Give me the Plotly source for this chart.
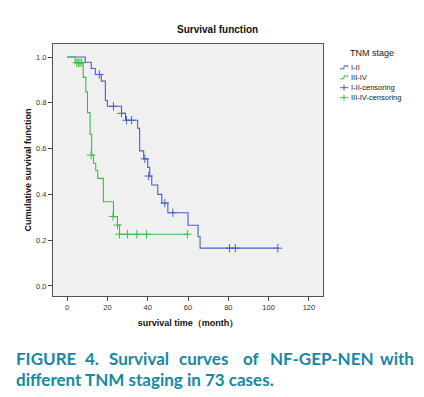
import plotly.graph_objects as go

# ---- data ----
stage12_time = [0, 9, 12, 14, 17, 19, 20, 27, 29, 35, 36, 38, 40, 41, 42, 45, 47, 50, 60, 65, 66, 104.6]
stage12_surv = [1.0, 0.977, 0.95, 0.924, 0.895, 0.81, 0.785, 0.754, 0.724, 0.689, 0.59, 0.555, 0.518,
                0.48, 0.441, 0.40, 0.362, 0.32, 0.265, 0.215, 0.165, 0.165]
stage12_cens_time = [16, 23, 27, 29.5, 32, 38.6, 40.5, 48.5, 52.5, 80.6, 83.5, 104.6]
stage12_cens_surv = [0.924, 0.785, 0.754, 0.724, 0.724, 0.555, 0.48, 0.362, 0.32, 0.165, 0.165, 0.165]

stage34_time = [0, 4, 8, 9.3, 10.1, 11.4, 12.2, 13.1, 14.2, 15.2, 18, 23, 25, 26, 59.7]
stage34_surv = [1.0, 0.975, 0.911, 0.848, 0.757, 0.662, 0.572, 0.536, 0.504, 0.47, 0.368, 0.303,
                0.266, 0.226, 0.226]
stage34_cens_time = [4.8, 5.6, 6.4, 7.3, 11.9, 22.8, 25, 26, 30, 34.6, 39.4, 59.7]
stage34_cens_surv = [0.975, 0.975, 0.975, 0.975, 0.572, 0.303, 0.266, 0.226, 0.226, 0.226, 0.226, 0.226]

x_ticks = [0, 20, 40, 60, 80, 100, 120]
y_ticks = [0.0, 0.2, 0.4, 0.6, 0.8, 1.0]
legend_labels = ["I-II", "III-IV", "I-II-censoring", "III-IV-censoring"]

BLUE = "#4a60c0"
GREEN = "#3fba4b"
TEAL = "#1589a3"

# page has an 8px body margin, so the figure is 8px smaller and offset
OFF = 8
W, H = 424 - OFF, 397 - OFF
BOX_L, BOX_T, BOX_R, BOX_B = 53, 44, 323, 296   # plot box in window pixels
ML, MT = BOX_L - OFF, BOX_T - OFF
PW, PH = BOX_R - BOX_L, BOX_B - BOX_T
MR, MB = W - ML - PW, H - MT - PH


def px(xp):
    return (xp - BOX_L) / PW


def py(yp):
    return (BOX_B - yp) / PH


fig = go.Figure()
fig.add_trace(go.Scatter(x=stage12_time, y=stage12_surv, mode="lines", line_shape="hv",
                         line=dict(color=BLUE, width=1.1), showlegend=False))
fig.add_trace(go.Scatter(x=stage34_time, y=stage34_surv, mode="lines", line_shape="hv",
                         line=dict(color=GREEN, width=1.1), showlegend=False))
fig.add_trace(go.Scatter(x=stage12_cens_time, y=stage12_cens_surv, mode="markers",
                         marker=dict(symbol="cross-thin", size=6, line=dict(color=BLUE, width=1)),
                         showlegend=False))
fig.add_trace(go.Scatter(x=stage34_cens_time, y=stage34_cens_surv, mode="markers",
                         marker=dict(symbol="cross-thin", size=6, line=dict(color=GREEN, width=1)),
                         showlegend=False))

axis_font = dict(family="Liberation Sans, Arial", size=7.5, color="#333333")
fig.update_xaxes(range=[-7, 127], tickvals=x_ticks, ticks="outside", ticklen=4, tickcolor="#444",
                 showgrid=False, zeroline=False, showline=True, mirror=True, linecolor="#555",
                 linewidth=1, tickfont=axis_font,
                 title=dict(text="<b>survival time（month）</b>", standoff=8,
                            font=dict(family="Liberation Sans, Arial", size=9, color="#111")))
fig.update_yaxes(range=[-0.044, 1.057], tickvals=y_ticks, tickformat=".1f", ticks="outside",
                 ticklen=4, tickcolor="#444", showgrid=False, zeroline=False, showline=True,
                 mirror=True, linecolor="#555", linewidth=1, tickfont=axis_font,
                 title=dict(text="<b>Cumulative survival function</b>", standoff=2,
                            font=dict(family="Liberation Sans, Arial", size=9, color="#111")))

annotations = [
    dict(text="<b>Survival function</b>", x=px(217.5), y=py(30), xref="paper", yref="paper",
         showarrow=False, xanchor="center", yanchor="middle",
         font=dict(family="Liberation Sans, Arial", size=10, color="#111")),
    dict(text="TNM stage", x=px(371.5), y=py(53.5), xref="paper", yref="paper", showarrow=False,
         xanchor="center", yanchor="middle", font=dict(family="Liberation Sans, Arial", size=9, color="#222")),
]
shapes = []
item_y = [67.3, 77.3, 87.7, 97.7]
colors = [BLUE, GREEN, BLUE, GREEN]
for i, lab in enumerate(legend_labels):
    yy = item_y[i]
    annotations.append(dict(text=lab, x=px(349), y=py(yy), xref="paper", yref="paper", showarrow=False,
                            xanchor="left", yanchor="middle",
                            font=dict(family="Liberation Sans, Arial", size=7.5, color="#222")))
    c = colors[i]
    if i < 2:
        path = (f"M {px(340)} {py(yy + 1.5)} L {px(344)} {py(yy + 1.5)} L {px(344)} {py(yy - 1.5)} "
                f"L {px(347.5)} {py(yy - 1.5)} L {px(347.5)} {py(yy)}")
        shapes.append(dict(type="path", path=path, xref="paper", yref="paper",
                           line=dict(color=c, width=1)))
    else:
        shapes.append(dict(type="line", x0=px(340), x1=px(348), y0=py(yy), y1=py(yy),
                           xref="paper", yref="paper", line=dict(color=c, width=1)))
        shapes.append(dict(type="line", x0=px(344), x1=px(344), y0=py(yy - 3), y1=py(yy + 3),
                           xref="paper", yref="paper", line=dict(color=c, width=1)))

# caption (justified first line emulated with word positions)
cap_font = dict(family="Lato", size=17, color=TEAL)
line1_words = ["FIGURE", "4.", "Survival", "curves", "of", "NF-GEP-NEN", "with"]
line1_x = [14, 83, 107, 177, 241, 268, 378]
for w, xw in zip(line1_words, line1_x):
    annotations.append(dict(text=f"<b>{w}</b>", x=px(xw), y=py(358), xref="paper", yref="paper",
                            showarrow=False, xanchor="left", yanchor="middle", font=cap_font))
annotations.append(dict(text="<b>different TNM staging in 73 cases.</b>", x=px(14), y=py(379),
                        xref="paper", yref="paper", showarrow=False, xanchor="left",
                        yanchor="middle", font=cap_font))

fig.update_layout(width=W, height=H, margin=dict(l=ML, r=MR, t=MT, b=MB),
                  paper_bgcolor="white", plot_bgcolor="#f0f0f0",
                  annotations=annotations, shapes=shapes, showlegend=False)

fig.write_html("out.html")
